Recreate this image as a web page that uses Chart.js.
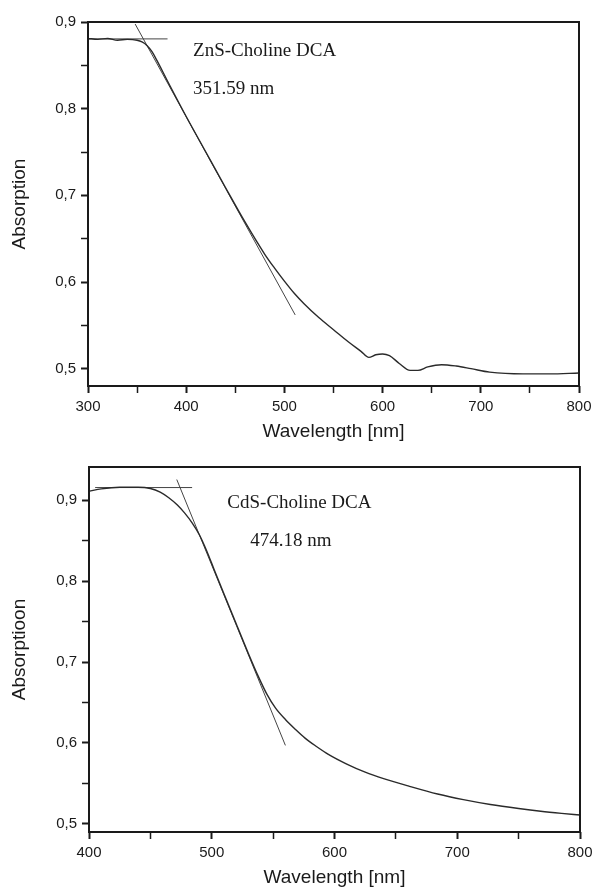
<!DOCTYPE html>
<html>
<head>
<meta charset="utf-8">
<script src="https://cdn.jsdelivr.net/npm/chart.js@4.4.1/dist/chart.umd.min.js"></script>
<style>
    body { margin: 0; background: #fff; }
    .panel { position: absolute; left: 0; width: 593px; }
    #panel-zns { top: 0; height: 445px; }
    #panel-cds { top: 445px; height: 444px; }
</style>
</head>
<body>
<div class="panel" id="panel-zns"><canvas id="grafico-zns"></canvas></div>
<div class="panel" id="panel-cds"><canvas id="grafico-cds"></canvas></div>
<script>
// ZnS-Choline DCA: espectro de absorción
const znsLongitud = [300, 310, 320, 330, 340, 350, 355, 360, 365, 370, 380, 400, 420, 440, 460, 480, 490, 500, 510, 520, 535, 550, 565, 578, 586, 593, 600, 607, 617, 628, 636, 646, 660, 675, 690, 709, 743, 770, 800];
const znsAbsorcion = [0.881, 0.880, 0.881, 0.879, 0.880, 0.879, 0.877, 0.873, 0.866, 0.856, 0.834, 0.791, 0.750, 0.709, 0.669, 0.632, 0.616, 0.601, 0.587, 0.575, 0.559, 0.545, 0.531, 0.520, 0.513, 0.516, 0.517, 0.515, 0.506, 0.498, 0.498, 0.502, 0.5046, 0.503, 0.500, 0.496, 0.494, 0.494, 0.495];
const znsTangenteHorizX = [300, 381];
const znsTangenteHorizY = [0.8805, 0.8805];
const znsTangenteX = [348, 511];
const znsTangenteY = [0.8977, 0.562];

// CdS-Choline DCA: espectro de absorción
const cdsLongitud = [400, 410, 425, 440, 450, 458, 465, 472, 478, 484, 490, 496, 502, 510, 520, 530, 538, 545, 552, 560, 568, 576, 585, 595, 610, 625, 640, 660, 684, 705, 727, 750, 768, 785, 800];
const cdsAbsorcion = [0.911, 0.914, 0.916, 0.916, 0.9145, 0.910, 0.903, 0.894, 0.884, 0.872, 0.857, 0.837, 0.814, 0.784, 0.747, 0.710, 0.682, 0.660, 0.643, 0.629, 0.617, 0.606, 0.596, 0.586, 0.574, 0.564, 0.556, 0.547, 0.537, 0.530, 0.524, 0.519, 0.5156, 0.513, 0.511];
const cdsTangenteHorizX = [405, 484];
const cdsTangenteHorizY = [0.9156, 0.9156];
const cdsTangenteX = [471.5, 560];
const cdsTangenteY = [0.9255, 0.597];

// Etiquetas de ejes y textos
const tituloX = 'Wavelength [nm]';
const tituloYZns = 'Absorption';
const tituloYCds = 'Absorptioon';
const textosZns = ['ZnS-Choline DCA', '351.59 nm'];
const textosCds = ['CdS-Choline DCA', '474.18 nm'];

Chart.defaults.font.family = "'Liberation Sans', Arial, sans-serif";
Chart.defaults.color = '#1a1a1a';

function puntos(xs, ys) {
    return xs.map((x, i) => ({ x: x, y: ys[i] }));
}

function esMayor(v) {
    return Math.abs(v * 10 - Math.round(v * 10)) < 1e-6;
}

// Marco completo alrededor del área del gráfico y textos anotados
const marcoYTextos = {
    id: 'marcoYTextos',
    afterDatasetsDraw(chart, args, opts) {
        const { ctx, chartArea } = chart;
        ctx.save();
        ctx.strokeStyle = '#1a1a1a';
        ctx.lineWidth = 2;
        ctx.strokeRect(chartArea.left, chartArea.top, chartArea.right - chartArea.left, chartArea.bottom - chartArea.top);
        ctx.fillStyle = '#1a1a1a';
        ctx.font = "19px 'Liberation Serif', 'Times New Roman', serif";
        ctx.textBaseline = 'middle';
        ctx.textAlign = 'left';
        opts.textos.forEach((t, i) => {
            const pos = opts.posiciones[i];
            ctx.fillText(t, chart.scales.x.getPixelForValue(pos[0]), chart.scales.y.getPixelForValue(pos[1]));
        });
        ctx.restore();
    }
};

function crearGrafico(id, cfg) {
    const ctx = document.getElementById(id).getContext('2d');
    const lineaBase = { pointRadius: 0, fill: false };
    return new Chart(ctx, {
        type: 'line',
        data: {
            datasets: [
                Object.assign({ data: puntos(cfg.longitud, cfg.absorcion), borderColor: '#2a2a2a', borderWidth: 1.4, cubicInterpolationMode: 'monotone' }, lineaBase),
                Object.assign({ data: puntos(cfg.horizX, cfg.horizY), borderColor: '#444', borderWidth: 1 }, lineaBase),
                Object.assign({ data: puntos(cfg.tanX, cfg.tanY), borderColor: '#444', borderWidth: 1 }, lineaBase)
            ]
        },
        options: {
            responsive: true,
            maintainAspectRatio: false,
            animation: false,
            layout: { padding: { top: cfg.padTop, right: cfg.padRight, left: 0, bottom: 0 } },
            plugins: {
                legend: { display: false },
                tooltip: { enabled: false },
                marcoYTextos: { textos: cfg.textos, posiciones: cfg.posTextos }
            },
            scales: {
                x: {
                    type: 'linear',
                    min: cfg.xMin,
                    max: 800,
                    border: { display: false },
                    grid: { drawOnChartArea: false, drawTicks: true, tickLength: 7, tickColor: '#1a1a1a', tickWidth: c => (c.tick && c.tick.value % 100 === 0) ? 2 : 1.5 },
                    ticks: {
                        stepSize: 50,
                        autoSkip: false,
                        maxRotation: 0,
                        padding: 5,
                        font: { size: 15 },
                        callback: v => v % 100 === 0 ? String(v) : ''
                    },
                    title: { display: true, text: tituloX, font: { size: 19 }, padding: { top: 0, bottom: cfg.tituloXPad } },
                    afterFit: s => { s.height = cfg.alturaX; s.paddingLeft = 0; s.paddingRight = 0; }
                },
                y: {
                    min: cfg.yMin,
                    max: cfg.yMax,
                    border: { display: false },
                    grid: { drawOnChartArea: false, drawTicks: true, tickLength: 7, tickColor: '#1a1a1a', tickWidth: c => (c.tick && esMayor(c.tick.value)) ? 2 : 1.5 },
                    ticks: {
                        stepSize: 0.05,
                        includeBounds: false,
                        autoSkip: false,
                        padding: 5,
                        font: { size: 15 },
                        callback: v => esMayor(v) ? v.toFixed(1).replace('.', ',') : ''
                    },
                    title: { display: true, text: cfg.tituloY, font: { size: 19 }, padding: { top: 8, bottom: 0 } },
                    afterFit: s => { s.width = cfg.anchoY; s.paddingTop = 0; s.paddingBottom = 0; }
                }
            }
        },
        plugins: [marcoYTextos]
    });
}

crearGrafico('grafico-zns', {
    longitud: znsLongitud, absorcion: znsAbsorcion,
    horizX: znsTangenteHorizX, horizY: znsTangenteHorizY,
    tanX: znsTangenteX, tanY: znsTangenteY,
    xMin: 300, yMin: 0.48, yMax: 0.9,
    padTop: 22, padRight: 14, anchoY: 88, alturaX: 59, tituloXPad: 2,
    tituloY: tituloYZns,
    textos: textosZns, posTextos: [[407, 0.866], [407, 0.823]]
});

crearGrafico('grafico-cds', {
    longitud: cdsLongitud, absorcion: cdsAbsorcion,
    horizX: cdsTangenteHorizX, horizY: cdsTangenteHorizY,
    tanX: cdsTangenteX, tanY: cdsTangenteY,
    xMin: 400, yMin: 0.49, yMax: 0.941,
    padTop: 22, padRight: 13, anchoY: 89, alturaX: 57, tituloXPad: 0,
    tituloY: tituloYCds,
    textos: textosCds, posTextos: [[512.7, 0.897], [531.4, 0.850]]
});
</script>
</body>
</html>
